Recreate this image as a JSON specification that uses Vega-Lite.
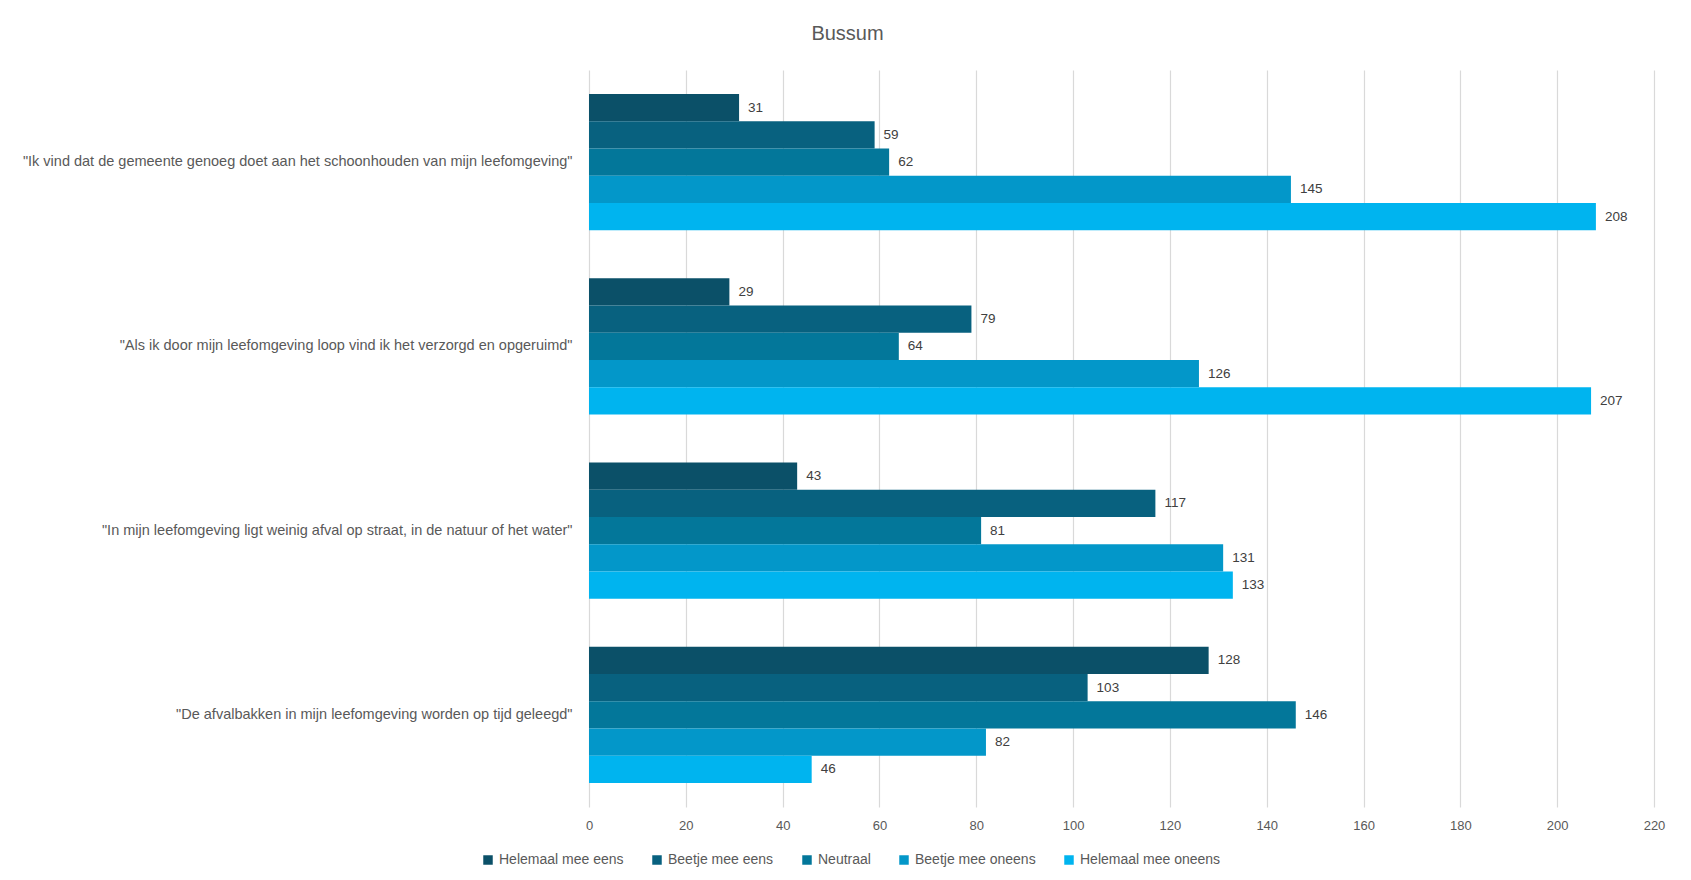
{
  "$schema": "https://vega.github.io/schema/vega-lite/v6.json",
  "width": 1065,
  "height": 737,
  "autosize": {"type": "none"},
  "padding": {"left": 589, "top": 70, "right": 37, "bottom": 73},
  "background": "white",
  "title": {"text": "Bussum", "fontSize": 20, "font": "Liberation Sans", "fontWeight": "normal", "color": "#595959", "dx": -274, "offset": 26},
  "data": {"values": [
    {"q": "\"Ik vind dat de gemeente genoeg doet aan het schoonhouden van mijn leefomgeving\"", "cat": "Helemaal mee eens", "v": 31},
    {"q": "\"Ik vind dat de gemeente genoeg doet aan het schoonhouden van mijn leefomgeving\"", "cat": "Beetje mee eens", "v": 59},
    {"q": "\"Ik vind dat de gemeente genoeg doet aan het schoonhouden van mijn leefomgeving\"", "cat": "Neutraal", "v": 62},
    {"q": "\"Ik vind dat de gemeente genoeg doet aan het schoonhouden van mijn leefomgeving\"", "cat": "Beetje mee oneens", "v": 145},
    {"q": "\"Ik vind dat de gemeente genoeg doet aan het schoonhouden van mijn leefomgeving\"", "cat": "Helemaal mee oneens", "v": 208},
    {"q": "\"Als ik door mijn leefomgeving loop vind ik het verzorgd en opgeruimd\"", "cat": "Helemaal mee eens", "v": 29},
    {"q": "\"Als ik door mijn leefomgeving loop vind ik het verzorgd en opgeruimd\"", "cat": "Beetje mee eens", "v": 79},
    {"q": "\"Als ik door mijn leefomgeving loop vind ik het verzorgd en opgeruimd\"", "cat": "Neutraal", "v": 64},
    {"q": "\"Als ik door mijn leefomgeving loop vind ik het verzorgd en opgeruimd\"", "cat": "Beetje mee oneens", "v": 126},
    {"q": "\"Als ik door mijn leefomgeving loop vind ik het verzorgd en opgeruimd\"", "cat": "Helemaal mee oneens", "v": 207},
    {"q": "\"In mijn leefomgeving ligt weinig afval op straat, in de natuur of het water\"", "cat": "Helemaal mee eens", "v": 43},
    {"q": "\"In mijn leefomgeving ligt weinig afval op straat, in de natuur of het water\"", "cat": "Beetje mee eens", "v": 117},
    {"q": "\"In mijn leefomgeving ligt weinig afval op straat, in de natuur of het water\"", "cat": "Neutraal", "v": 81},
    {"q": "\"In mijn leefomgeving ligt weinig afval op straat, in de natuur of het water\"", "cat": "Beetje mee oneens", "v": 131},
    {"q": "\"In mijn leefomgeving ligt weinig afval op straat, in de natuur of het water\"", "cat": "Helemaal mee oneens", "v": 133},
    {"q": "\"De afvalbakken in mijn leefomgeving worden op tijd geleegd\"", "cat": "Helemaal mee eens", "v": 128},
    {"q": "\"De afvalbakken in mijn leefomgeving worden op tijd geleegd\"", "cat": "Beetje mee eens", "v": 103},
    {"q": "\"De afvalbakken in mijn leefomgeving worden op tijd geleegd\"", "cat": "Neutraal", "v": 146},
    {"q": "\"De afvalbakken in mijn leefomgeving worden op tijd geleegd\"", "cat": "Beetje mee oneens", "v": 82},
    {"q": "\"De afvalbakken in mijn leefomgeving worden op tijd geleegd\"", "cat": "Helemaal mee oneens", "v": 46}
  ]},
  "encoding": {
    "y": {"field": "q", "type": "nominal", "title": null,
      "sort": ["\"Ik vind dat de gemeente genoeg doet aan het schoonhouden van mijn leefomgeving\"", "\"Als ik door mijn leefomgeving loop vind ik het verzorgd en opgeruimd\"", "\"In mijn leefomgeving ligt weinig afval op straat, in de natuur of het water\"", "\"De afvalbakken in mijn leefomgeving worden op tijd geleegd\""],
      "scale": {"paddingInner": 0.26, "paddingOuter": 0.13},
      "axis": {"domain": false, "ticks": false, "labelPadding": 17, "labelFontSize": 14.5, "labelFont": "Liberation Sans", "labelColor": "#595959", "labelLimit": 700}},
    "yOffset": {"field": "cat", "type": "nominal",
      "sort": ["Helemaal mee eens", "Beetje mee eens", "Neutraal", "Beetje mee oneens", "Helemaal mee oneens"],
      "scale": {"paddingInner": 0, "paddingOuter": 0}},
    "x": {"field": "v", "type": "quantitative", "title": null,
      "scale": {"domain": [0, 220], "nice": false},
      "axis": {"values": [0, 20, 40, 60, 80, 100, 120, 140, 160, 180, 200, 220], "domain": false, "ticks": false, "grid": true, "gridColor": "#d9d9d9", "gridWidth": 1.2, "labelPadding": 12, "labelFlush": false, "labelFontSize": 13, "labelFont": "Liberation Sans", "labelColor": "#595959"}}
  },
  "layer": [
    {"mark": {"type": "bar"},
     "encoding": {
       "color": {"field": "cat", "type": "nominal",
         "scale": {"domain": ["Helemaal mee eens", "Beetje mee eens", "Neutraal", "Beetje mee oneens", "Helemaal mee oneens"], "range": ["#0b5068", "#08617f", "#03779a", "#0397c9", "#00b4ef"]},
         "legend": {"title": null, "orient": "none", "direction": "horizontal", "legendX": -108, "legendY": 783, "symbolType": "square", "symbolSize": 90, "symbolStrokeWidth": 0, "labelFontSize": 14, "labelFont": "Liberation Sans", "labelColor": "#595959", "columnPadding": 26, "labelOffset": 4}}
     }},
    {"mark": {"type": "text", "align": "left", "dx": 9, "fontSize": 13.5, "font": "Liberation Sans", "color": "#404040"},
     "encoding": {"text": {"field": "v", "type": "quantitative"}}}
  ],
  "config": {"view": {"stroke": null}}
}
